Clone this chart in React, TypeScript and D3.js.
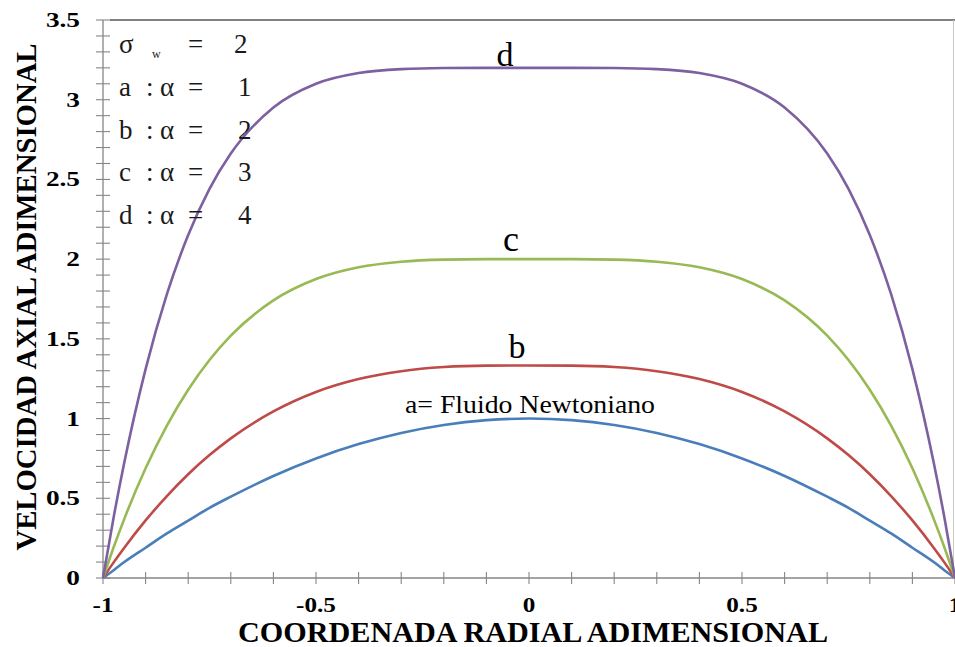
import React from "react";
import * as d3 from "d3";

const radial = [-1, -0.975, -0.95, -0.9, -0.85, -0.8, -0.75, -0.7, -0.6, -0.5, -0.4, -0.3, -0.2, -0.1, 0,
  0.1, 0.2, 0.3, 0.4, 0.5, 0.6, 0.7, 0.75, 0.8, 0.85, 0.9, 0.95, 0.975, 1];

const seriesA = [0, 0.049, 0.1, 0.19, 0.28, 0.36, 0.44, 0.51, 0.64, 0.75, 0.84, 0.91, 0.96, 0.99, 1,
  0.99, 0.96, 0.91, 0.84, 0.75, 0.64, 0.51, 0.44, 0.36, 0.28, 0.19, 0.1, 0.049, 0];
const seriesB = [0, 0.098, 0.19, 0.361, 0.514, 0.651, 0.771, 0.876, 1.045, 1.167, 1.248, 1.297, 1.323, 1.332, 1.333,
  1.332, 1.323, 1.297, 1.248, 1.167, 1.045, 0.876, 0.771, 0.651, 0.514, 0.361, 0.19, 0.098, 0];
const seriesC = [0, 0.193, 0.371, 0.688, 0.956, 1.181, 1.367, 1.52, 1.741, 1.875, 1.949, 1.984, 1.997, 2.0, 2.0,
  2.0, 1.997, 1.984, 1.949, 1.875, 1.741, 1.52, 1.367, 1.181, 0.956, 0.688, 0.371, 0.193, 0];
const seriesD = [0, 0.381, 0.724, 1.31, 1.78, 2.151, 2.441, 2.662, 2.951, 3.1, 3.167, 3.192, 3.199, 3.2, 3.2,
  3.2, 3.199, 3.192, 3.167, 3.1, 2.951, 2.662, 2.441, 2.151, 1.78, 1.31, 0.724, 0.381, 0];

const seriesNames = ["a", "b", "c", "d"];
const seriesColors = ["#4a7ebb", "#be4b48", "#98b954", "#7d60a0"];

const xTickValues = [-1, -0.5, 0, 0.5, 1];
const xTickLabels = ["-1", "-0.5", "0", "0.5", "1"];
const yTickValues = [0, 0.5, 1, 1.5, 2, 2.5, 3, 3.5];
const yTickLabels = ["0", "0.5", "1", "1.5", "2", "2.5", "3", "3.5"];

const legendRows = [
  { letter: "a", value: "1" },
  { letter: "b", value: "2" },
  { letter: "c", value: "3" },
  { letter: "d", value: "4" },
];

const W = 955;
const H = 647;
const serif = "'Liberation Serif', 'DejaVu Serif', serif";

export default function App() {
  const x = d3.scaleLinear().domain([-1, 1]).range([103, 955]);
  const y = d3.scaleLinear().domain([0, 3.5]).range([578, 20]);
  const all = [seriesA, seriesB, seriesC, seriesD];
  const line = d3
    .line<[number, number]>()
    .x((d) => x(d[0]))
    .y((d) => y(d[1]))
    .curve(d3.curveMonotoneX);

  const minorX = d3.range(-10, 11).map((i) => i / 10);
  const minorY = d3.range(0, 36).map((i) => i / 10);
  const axisColor = "#868686";
  const txt = { fontFamily: serif };

  return (
    <svg width={W} height={H} style={{ position: "absolute", left: 0, top: 0, background: "#fff" }}>
      <rect x={0} y={0} width={W} height={H} fill="#fff" />
      {/* frame */}
      <line x1={110} x2={955} y1={20} y2={20} stroke="#808080" strokeWidth={2} />
      <line x1={953.5} x2={953.5} y1={20} y2={578} stroke="#c8c8c8" strokeWidth={1} />
      {/* axes */}
      <line x1={103} x2={103} y1={20} y2={578} stroke={axisColor} strokeWidth={1.3} />
      <line x1={103} x2={955} y1={578} y2={578} stroke={axisColor} strokeWidth={1.3} />
      {minorY.map((v) => (
        <line key={"yt" + v} x1={96} x2={110} y1={y(v)} y2={y(v)} stroke={axisColor} strokeWidth={1.1} />
      ))}
      {minorX.map((v) => (
        <line key={"xt" + v} x1={x(v)} x2={x(v)} y1={572} y2={584} stroke={axisColor} strokeWidth={1.1} />
      ))}
      {yTickValues.map((v, i) => (
        <text
          key={"yl" + v}
          transform={`translate(80,${y(v) + 7}) scale(1.3,1)`}
          textAnchor="end"
          style={txt}
          fontWeight="bold"
          fontSize={21}
        >
          {yTickLabels[i]}
        </text>
      ))}
      {xTickValues.map((v, i) => (
        <text
          key={"xl" + v}
          transform={`translate(${x(v)},612) scale(1.2,1)`}
          textAnchor="middle"
          style={txt}
          fontWeight="bold"
          fontSize={21}
        >
          {xTickLabels[i]}
        </text>
      ))}
      {/* series */}
      {all.map((s, i) => (
        <path
          key={seriesNames[i]}
          d={line(radial.map((r, j) => [r, s[j]] as [number, number])) || ""}
          fill="none"
          stroke={seriesColors[i]}
          strokeWidth={2.6}
        />
      ))}
      {/* curve labels */}
      <text x={505} y={66} textAnchor="middle" style={txt} fontSize={34}>d</text>
      <text x={511} y={251} textAnchor="middle" style={txt} fontSize={36}>c</text>
      <text x={517} y={358} textAnchor="middle" style={txt} fontSize={34}>b</text>
      <text x={405} y={413} style={txt} fontSize={25} textLength={250} lengthAdjust="spacingAndGlyphs">
        a= Fluido Newtoniano
      </text>
      {/* legend */}
      <g style={txt} fontSize={27} fill="#1a1a1a">
        <text x={119} y={53} style={txt}>σ</text>
        <text x={152} y={58} style={txt} fontSize={12}>w</text>
        <text x={188} y={53} style={txt}>=</text>
        <text x={234} y={53} style={txt}>2</text>
        {legendRows.map((r, i) => {
          const by = 96 + i * 42.7;
          return (
            <g key={r.letter}>
              <text x={119} y={by} style={txt}>{r.letter}</text>
              <text x={146} y={by} style={txt}>:</text>
              <text x={160} y={by} style={txt}>α</text>
              <text x={188} y={by} style={txt}>=</text>
              <text x={238} y={by} style={txt}>{r.value}</text>
            </g>
          );
        })}
      </g>
      {/* axis titles */}
      <text
        x={533}
        y={642}
        textAnchor="middle"
        style={txt}
        fontWeight="bold"
        fontSize={29}
        textLength={590}
        lengthAdjust="spacingAndGlyphs"
      >
        COORDENADA RADIAL ADIMENSIONAL
      </text>
      <text
        transform="translate(36,297) rotate(-90)"
        textAnchor="middle"
        style={txt}
        fontWeight="bold"
        fontSize={30}
        textLength={507}
        lengthAdjust="spacingAndGlyphs"
      >
        VELOCIDAD AXIAL ADIMENSIONAL
      </text>
    </svg>
  );
}
